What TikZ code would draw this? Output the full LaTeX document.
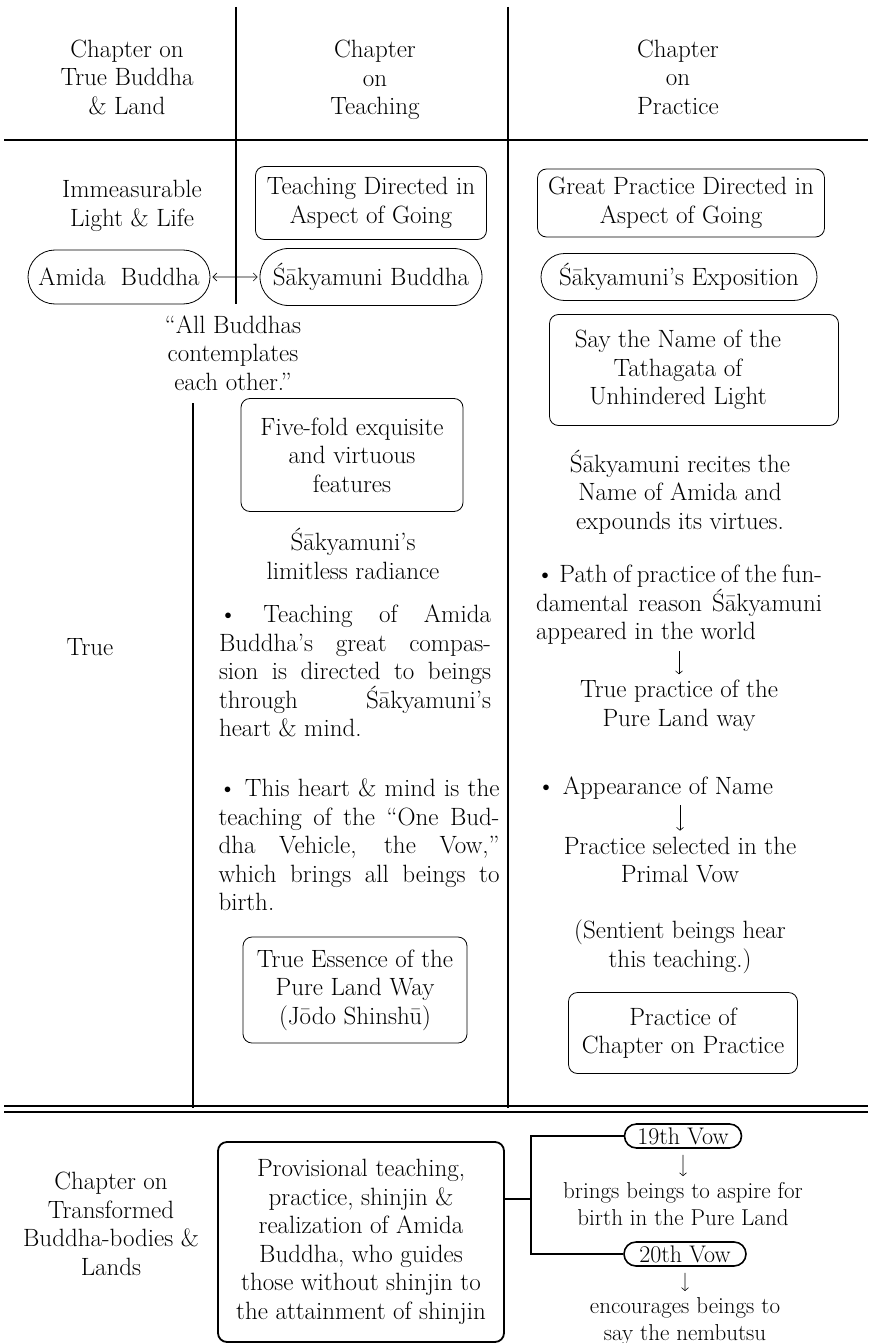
\documentclass[tikz,border=0pt]{standalone}
\usepackage{tikz}
\usetikzlibrary{arrows.meta,shapes.misc}

\newcommand{\vowfont}{\fontsize{24}{27}\selectfont}

\begin{document}
\begin{tikzpicture}[x=1pt,y=-1pt,
  font=\fontsize{25}{28.5}\selectfont,
  txt/.style={align=center,inner sep=0pt},
  tbox/.style={draw,rounded corners=9pt,line width=0.8pt,align=center,inner sep=0pt},
  pill/.style={draw,rounded rectangle,line width=0.8pt,inner sep=0pt},
  vowtxt/.style={align=center,inner sep=0pt,font=\fontsize{23}{27}\selectfont},
  vow/.style={draw,rounded rectangle,line width=1.6pt,inner xsep=2pt,inner ysep=1pt},
  tabline/.style={line width=1.2pt},
  arr/.style={line width=0.6pt,-{Straight Barb[length=3pt,width=7pt]},
    shorten <=6pt,shorten >=6pt},
  forkline/.style={line width=1.6pt}]
\useasboundingbox (0,0) rectangle (868,1343);

\draw[tabline] (236,7) -- (236,304);
\draw[tabline] (508,7) -- (508,1108);
\draw[line width=2pt] (4,140) -- (868,140);
\draw[tabline] (193,403) -- (193,1108);
\draw[line width=1.4pt] (4,1106) -- (868,1106);
\draw[line width=1.4pt] (4,1112) -- (868,1112);

\node[txt] (hTrue) at (127,77) {Chapter on\\True Buddha\\\& Land};
\node[txt] (hTeach) at (375,80) {Chapter\\on\\Teaching};
\node[txt] (hPract) at (678,77) {Chapter\\on\\Practice};

\node[txt] (life) at (132,206) {Immeasurable\\Light \& Life};
\node[tbox,minimum width=231pt,minimum height=73pt] (teachGo) at (371,203) {Teaching Directed in\\Aspect of Going};
\node[tbox,minimum width=287pt,minimum height=68pt] (practGo) at (681,203) {Great Practice Directed in\\Aspect of Going};
\node[pill,minimum width=182pt,minimum height=54pt] (amida) at (119,277) {Amida\ \ Buddha};
\node[pill,minimum width=222pt,minimum height=57pt] (sakya) at (371,277) {Śākyamuni Buddha};
\node[pill,minimum width=276pt,minimum height=47pt] (expo) at (679,277) {Śākyamuni’s Exposition};
\draw[line width=0.6pt,{Straight Barb[length=4pt,width=8pt]}-{Straight Barb[length=4pt,width=8pt]},
  shorten <=2pt,shorten >=2pt] (amida) -- (sakya);

\node[txt] (allB) at (233,353) {“All Buddhas\\contemplates\\each other.”};
\node[tbox,minimum width=289pt,minimum height=111pt] (sayBox) at (694,370) {};
\node[txt] (sayName) at (678,370) {Say the Name of the\\Tathagata of\\Unhindered Light};

\node[tbox,minimum width=222pt,minimum height=113pt] (five) at (352,455) {Five-fold exquisite\\and virtuous\\features};
\node[txt] (radiance) at (353,554) {Śākyamuni’s\\limitless radiance};
\node[txt] (trueLbl) at (90,647) {True};
\node[txt,text width=272pt,align=justify] (teachPar) at (355,671) {\textbullet\ Teaching of Amida\linebreak Buddha’s great compas-\linebreak sion is directed to beings\linebreak through Śākyamuni’s\linebreak heart \& mind.};
\node[txt,text width=281pt,align=justify] (vehPar) at (359,845) {\textbullet\ This heart \& mind is the\linebreak teaching of the “One Bud-\linebreak dha Vehicle, the Vow,”\linebreak which brings all beings to\linebreak birth.};
\node[tbox,minimum width=224pt,minimum height=106pt] (essence) at (355,990) {True Essence of the\\Pure Land Way\\(Jōdo Shinshū)};

\node[txt] (recite) at (680,492) {Śākyamuni recites the\\Name of Amida and\\expounds its virtues.};
\node[txt,text width=286pt,align=justify] (pathPar) at (679,605) {\textbullet\ Path of practice of the fun-\linebreak damental reason Śākyamuni\linebreak appeared in the world};
\node[txt] (truePr) at (679,706) {True practice of the\\Pure Land way};
\draw[arr] (pathPar) -- (truePr);
\node[txt,anchor=west] (appear) at (537,788) {\textbullet\ Appearance of Name};
\node[txt] (selPr) at (680,860) {Practice selected in the\\Primal Vow};
\draw[arr] (appear.south -| selPr.north) -- (selPr.north);
\node[txt] (sentient) at (680,947) {(Sentient beings hear\\this teaching.)};
\node[tbox,minimum width=229pt,minimum height=81pt] (pracBox) at (683,1033) {Practice of\\Chapter on Practice};

\node[txt] (transf) at (111,1224) {Chapter on\\Transformed\\Buddha-bodies \&\\Lands};
\node[tbox,line width=1.8pt,minimum width=286pt,minimum height=200pt] (prov) at (361,1242) {Provisional teaching,\\practice, shinjin \&\\realization of Amida\\Buddha, who guides\\those without shinjin to\\the attainment of shinjin};
\node[vow,minimum width=121pt,minimum height=24pt] (v19) at (683,1136) {\vowfont 19th Vow};
\node[vowtxt] (brings) at (683,1204) {brings beings to aspire for\\birth in the Pure Land};
\node[vow,minimum width=126pt,minimum height=24pt] (v20) at (685,1254) {\vowfont 20th Vow};
\node[vowtxt] (encour) at (685,1321) {encourages beings to\\say the nembutsu};
\draw[arr] (v19) -- (brings);
\draw[arr] (v20) -- (encour);
\coordinate (split) at (531,1199);
\draw[forkline] (prov.east |- split) -- (split);
\draw[forkline] (v19.west) -| (split) |- (v20.west);
\end{tikzpicture}
\end{document}
